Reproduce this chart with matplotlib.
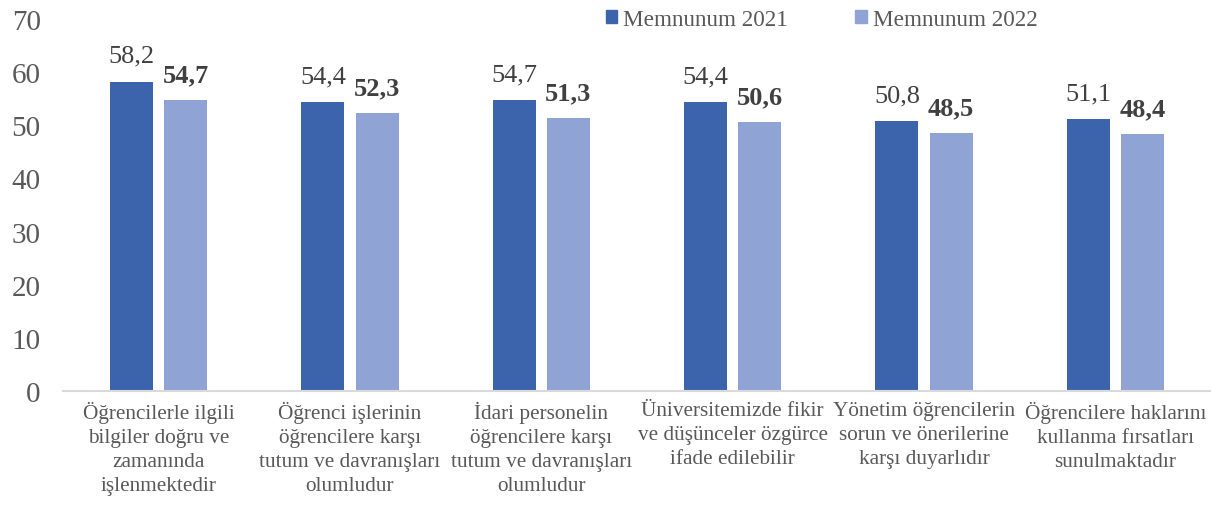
import numpy as np
import matplotlib
matplotlib.use("Agg")
from matplotlib import pyplot as plt
from matplotlib.patches import Patch

categories = [
    "Öğrencilerle ilgili\nbilgiler doğru ve\nzamanında\nişlenmektedir",
    "Öğrenci işlerinin\nöğrencilere karşı\ntutum ve davranışları\nolumludur",
    "İdari personelin\nöğrencilere karşı\ntutum ve davranışları\nolumludur",
    "Üniversitemizde fikir\nve düşünceler özgürce\nifade edilebilir",
    "Yönetim öğrencilerin\nsorun ve önerilerine\nkarşı duyarlıdır",
    "Öğrencilere haklarını\nkullanma fırsatları\nsunulmaktadır",
]
memnun_2021 = [58.2, 54.4, 54.7, 54.4, 50.8, 51.1]
memnun_2022 = [54.7, 52.3, 51.3, 50.6, 48.5, 48.4]
series_names = ["Memnunum 2021", "Memnunum 2022"]

plt.rcParams["font.family"] = ["Liberation Serif", "DejaVu Serif"]
dark = "#3c64ac"
light = "#8fa3d4"
grey = "#595959"

fig = plt.figure(figsize=(12.11, 5.06), dpi=100)
ax = fig.add_axes([63 / 1211, 114 / 506, 1 - 63 / 1211, 372 / 506])

x = np.arange(len(categories))
w = 0.225
gap = 0.058
b1 = ax.bar(x - (w + gap) / 2, memnun_2021, w, color=dark)
b2 = ax.bar(x + (w + gap) / 2, memnun_2022, w, color=light)

# data labels: 2021 normal, 2022 bold
for rect, v in zip(b1, memnun_2021):
    ax.text(rect.get_x() + rect.get_width() / 2, v + 2.8, f"{v:.1f}".replace(".", ","),
            ha="center", va="bottom", fontsize=19, color="#404040")
for rect, v in zip(b2, memnun_2022):
    ax.text(rect.get_x() + rect.get_width() / 2, v + 2.6, f"{v:.1f}".replace(".", ","),
            ha="center", va="bottom", fontsize=19, color="#404040", fontweight="bold")

ax.set_xlim(-0.5, len(categories) - 0.5)
ax.set_ylim(0, 70)
ax.set_yticks(range(0, 71, 10))
ax.tick_params(axis="y", length=0, labelsize=21, labelcolor=grey, pad=16)
ax.set_xticks(x)
ax.set_xticklabels(categories, fontsize=15.3, color=grey, linespacing=1.36)
ax.tick_params(axis="x", length=0, pad=7)
for s in ["top", "right", "left"]:
    ax.spines[s].set_visible(False)
ax.spines["bottom"].set_color("#d9d9d9")
ax.spines["bottom"].set_linewidth(1.5)

handles = [Patch(color=dark), Patch(color=light)]
fig.legend(handles, series_names, loc="upper left", bbox_to_anchor=(585 / 1211, 1.022),
           ncol=2, frameon=False, fontsize=16.7, handlelength=0.5, handleheight=0.5,
           handletextpad=0.25, columnspacing=2.9, labelcolor=grey)

fig.savefig("out.png", dpi=100)
